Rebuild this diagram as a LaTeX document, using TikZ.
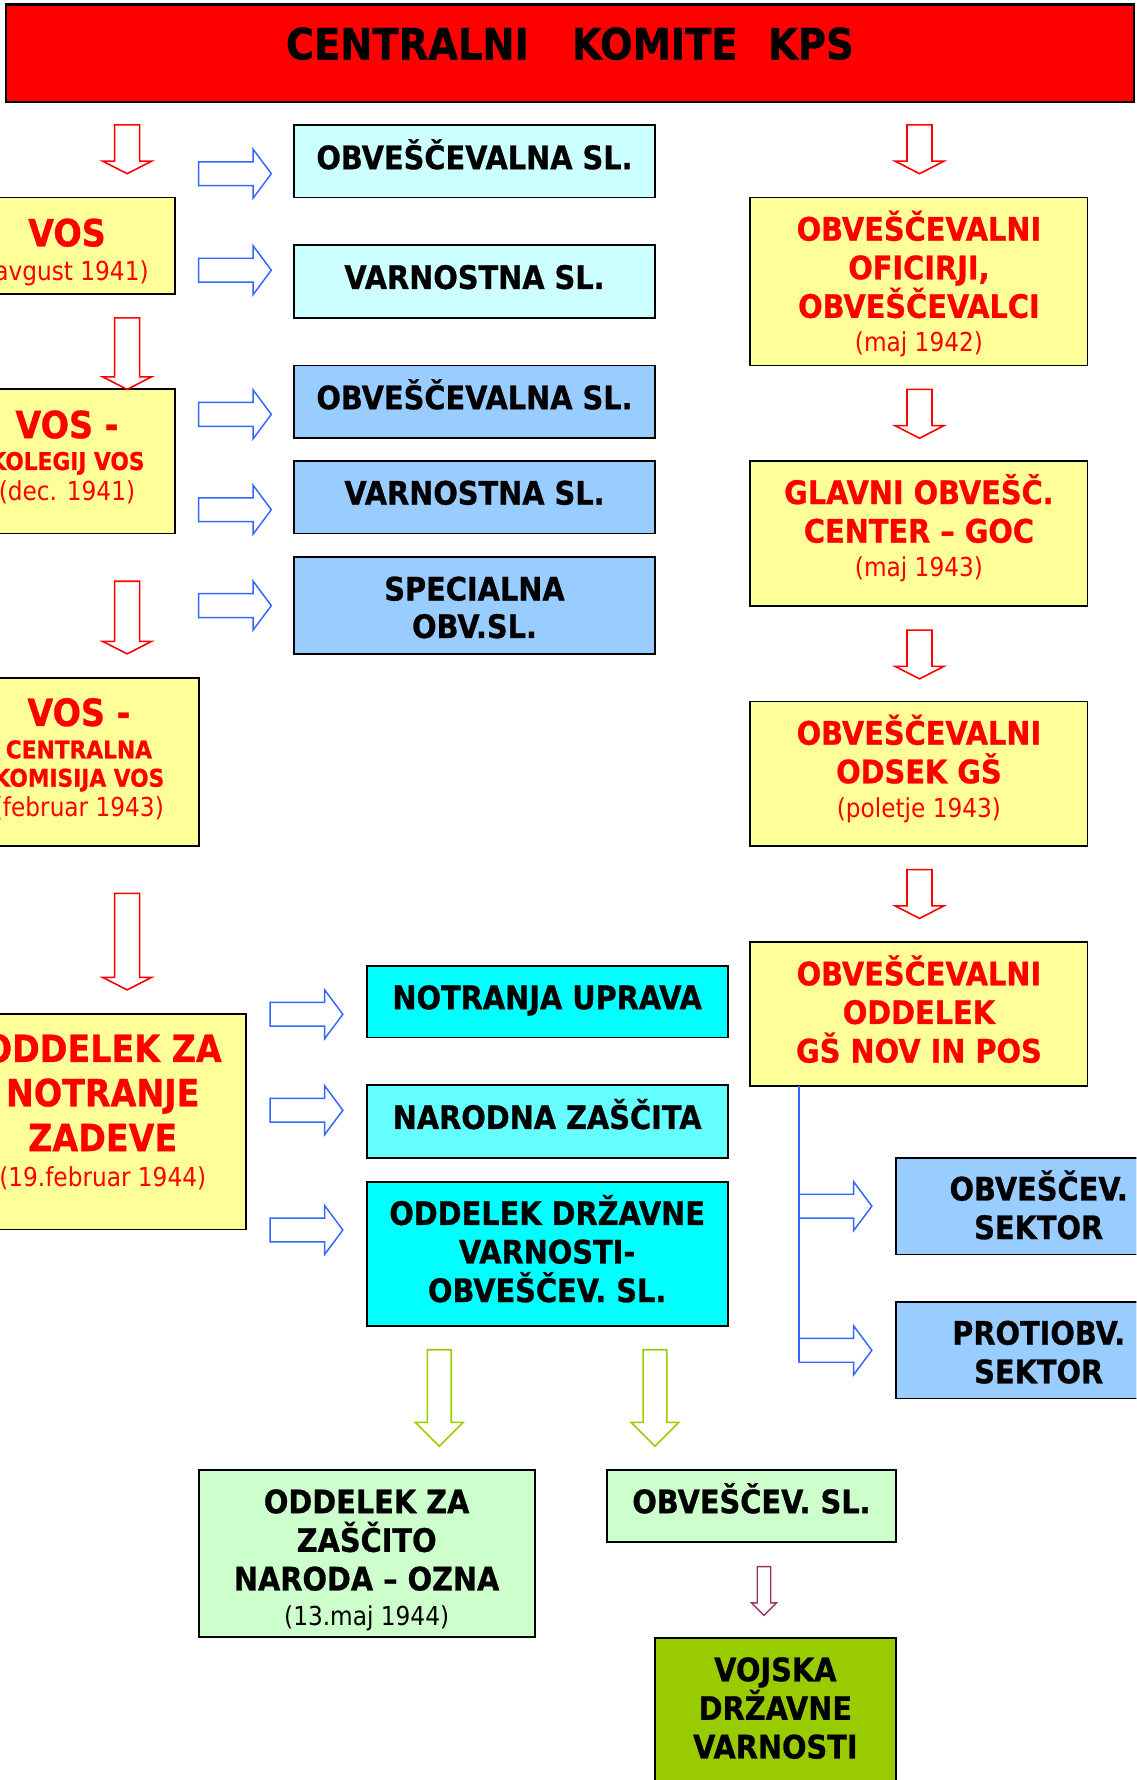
\documentclass[tikz,border=0pt]{standalone}
\usepackage{fontspec}
\setmainfont{DejaVu Sans}[FakeStretch=0.89, BoldFeatures={FakeBold=0.8}]
\usetikzlibrary{calc}
\definecolor{kred}{HTML}{FF0000}
\definecolor{kyellow}{HTML}{FFFF99}
\definecolor{lcyan}{HTML}{CCFFFF}
\definecolor{lblue}{HTML}{99CCFF}
\definecolor{kcyan}{HTML}{00FFFF}
\definecolor{mcyan}{HTML}{66FFFF}
\definecolor{lgreen}{HTML}{CCFFCC}
\definecolor{olive}{HTML}{99CC00}
\definecolor{arrblue}{HTML}{3366FF}
\definecolor{arrpurple}{HTML}{993366}
% block arrow pointing down: style, from, to, shaft half width, head half width, head length
\newcommand\downblock[6]{%
  \draw[#1] let \p1=#2, \p2=#3, \n1={\y2-\y1} in
    (\p1) ++(-#4,0) -- ++(0,{\n1+#6}) -- ++({-(#5-#4)},0) -- ++(#5,#6) -- ++(#5,-#6)
    -- ++({-(#5-#4)},0) -- ++(0,{-(\n1+#6)}) -- cycle;}
% block arrow pointing right
\newcommand\rightblock[6]{%
  \draw[#1] let \p1=#2, \p2=#3, \n1={\x2-\x1} in
    (\p1) ++(0,-#4) -- ++({\n1-#6},0) -- ++(0,{-(#5-#4)}) -- ++(#6,#5) -- ++(-#6,#5)
    -- ++(0,{-(#5-#4)}) -- ++({-(\n1-#6)},0) -- cycle;}
% one text line with a fixed strut: [depth]{height}{text}
\newcommand\Ln[3][0]{\rule[-#1pt]{0pt}{\dimexpr#2pt+#1pt\relax}\smash{#3}}
\newcommand\blk{\color{black}\fontsize{28.5}{30}\selectfont\bfseries}
\newcommand\rd{\color{kred}\fontsize{28.5}{30}\selectfont\bfseries}
\newcommand\dtr{\color{kred}\fontsize{23}{24}\selectfont\mdseries}
\newcommand\dtb{\color{black}\fontsize{23}{24}\selectfont\mdseries}
\newcommand\vosf{\color{kred}\fontsize{33}{34}\selectfont\bfseries}
\newcommand\sr{\color{kred}\fontsize{21.5}{22}\selectfont\bfseries}
\newcommand\br{\color{kred}\fontsize{33}{34}\selectfont\bfseries}
\tikzset{
  box/.style={draw=black, line width=1.6pt, anchor=north west, align=center,
    inner sep=0pt, outer sep=0pt,
    font={\fontsize{10}{0}\selectfont\setlength\lineskip{0pt}\setlength\lineskiplimit{0pt}}},
  redarrow/.style={draw=kred, line width=1.4pt, line join=miter},
  bluearrow/.style={draw=arrblue, line width=1.3pt, line join=miter},
  greenarrow/.style={draw=olive, line width=1.4pt, line join=miter},
  purplearrow/.style={draw=arrpurple, line width=1.2pt, line join=miter},
}
\begin{document}
\begin{tikzpicture}[x=1pt,y=-1pt]
\useasboundingbox (0,0) rectangle (1001,1568);
\clip (0,0) rectangle (1001,1568);
% title
\node[box, line width=2pt, fill=kred, minimum width=994, minimum height=86] (title) at (5,4)
  {\Ln[37.7]{48.3}{\fontsize{38}{40}\selectfont\bfseries CENTRALNI\hspace{38pt}KOMITE\hspace{27pt}KPS}};
% left column
\node[box, fill=kyellow, minimum width=190, minimum height=85] (vos) at (-36,174)
  {\Ln{43}{\vosf VOS}\\\Ln[12]{30}{\dtr (avgust 1941)}};
\node[box, fill=kyellow, minimum width=190, minimum height=127] (kol) at (-36,343)
  {\Ln{43}{\vosf VOS -}\\\Ln{28}{\sr KOLEGIJ VOS}\\\Ln[29]{27}{\dtr (dec. 1941)}};
\node[box, fill=kyellow, minimum width=211, minimum height=148] (cen) at (-36,597)
  {\Ln{42.5}{\vosf VOS -}\\\Ln{28.5}{\sr CENTRALNA}\\\Ln{25}{\sr KOMISIJA VOS}\\\Ln[26]{26}{\dtr (februar 1943)}};
\node[box, fill=kyellow, minimum width=253, minimum height=190] (not) at (-36,893)
  {\Ln{42.5}{\br ODDELEK ZA}\\\Ln{39}{\br NOTRANJE}\\\Ln{39.5}{\br ZADEVE}\\\Ln[37.5]{31.5}{\dtr (19.februar 1944)}};
% middle upper
\node[box, fill=lcyan, minimum width=318, minimum height=64] (m1) at (259,110) {\Ln[25]{39}{\blk OBVEŠČEVALNA SL.}};
\node[box, fill=lcyan, minimum width=318, minimum height=64] (m2) at (259,216) {\Ln[25.5]{38.5}{\blk VARNOSTNA SL.}};
\node[box, fill=lblue, minimum width=318, minimum height=64] (m3) at (259,322) {\Ln[25.5]{38.5}{\blk OBVEŠČEVALNA SL.}};
\node[box, fill=lblue, minimum width=318, minimum height=64] (m4) at (259,406) {\Ln[25.5]{38.5}{\blk VARNOSTNA SL.}};
\node[box, fill=lblue, minimum width=318, minimum height=85] (m5) at (259,491)
  {\Ln{38}{\blk SPECIALNA}\\\Ln[14]{33}{\blk OBV.SL.}};
% right column
\node[box, fill=kyellow, minimum width=297, minimum height=148] (r1) at (661,174)
  {\Ln{38}{\rd OBVEŠČEVALNI}\\\Ln{34}{\rd OFICIRJI,}\\\Ln{34}{\rd OBVEŠČEVALCI}\\\Ln[12.5]{29.5}{\dtr (maj 1942)}};
\node[box, fill=kyellow, minimum width=297, minimum height=128] (r2) at (661,406)
  {\Ln{38}{\rd GLAVNI OBVEŠČ.}\\\Ln{34}{\rd CENTER – GOC}\\\Ln[26]{30}{\dtr (maj 1943)}};
\node[box, fill=kyellow, minimum width=297, minimum height=127] (r3) at (661,618)
  {\Ln{38}{\rd OBVEŠČEVALNI}\\\Ln{34}{\rd ODSEK GŠ}\\\Ln[25]{30}{\dtr (poletje 1943)}};
\node[box, fill=kyellow, minimum width=297, minimum height=127] (r4) at (661,830)
  {\Ln{38}{\rd OBVEŠČEVALNI}\\\Ln{34}{\rd ODDELEK}\\\Ln[21]{34}{\rd GŠ NOV IN POS}};
% middle lower
\node[box, fill=kcyan, minimum width=318, minimum height=63] (n1) at (323,851) {\Ln[25]{38}{\blk NOTRANJA UPRAVA}};
\node[box, fill=mcyan, minimum width=318, minimum height=64] (n2) at (323,956) {\Ln[25.5]{38.5}{\blk NARODNA ZAŠČITA}};
\node[box, fill=kcyan, minimum width=318, minimum height=127] (n3) at (323,1041)
  {\Ln{38}{\blk ODDELEK DRŽAVNE}\\\Ln{34}{\blk VARNOSTI-}\\\Ln[21]{34}{\blk OBVEŠČEV. SL.}};
% right lower
\node[box, fill=lblue, minimum width=252, minimum height=85] (s1) at (789,1020)
  {\Ln{37.5}{\blk OBVEŠČEV.}\\\Ln[13.5]{34}{\blk SEKTOR}};
\node[box, fill=lblue, minimum width=252, minimum height=85] (s2) at (789,1147)
  {\Ln{37.5}{\blk PROTIOBV.}\\\Ln[13.5]{34}{\blk SEKTOR}};
% bottom
\node[box, fill=lgreen, minimum width=296, minimum height=147] (g1) at (175,1295)
  {\Ln{38}{\blk ODDELEK ZA}\\\Ln{34}{\blk ZAŠČITO}\\\Ln{34}{\blk NARODA – OZNA}\\\Ln[10.5]{30.5}{\dtb (13.maj 1944)}};
\node[box, fill=lgreen, minimum width=254, minimum height=63] (g2) at (535,1295) {\Ln[25]{38}{\blk OBVEŠČEV. SL.}};
\node[box, fill=olive, minimum width=212, minimum height=126] (v) at (577,1443)
  {\Ln{38}{\blk VOJSKA}\\\Ln{34}{\blk DRŽAVNE}\\\Ln[20]{34}{\blk VARNOSTI}};
% helper coordinates
\coordinate (cl) at (112,0);
\coordinate (cr) at (810,0);
\coordinate (lx) at (704,0);
\coordinate (lend) at (704,1200);
\coordinate (gx1) at (387,0);
\coordinate (gx2) at (577,0);
\coordinate (px) at (673,0);
% red arrows left
\downblock{redarrow}{($(title.south -| cl)+(0,20)$)}{($(vos.north -| cl)+(0,-21)$)}{11}{21.5}{11}
\downblock{redarrow}{($(vos.south -| cl)+(0,21)$)}{(kol.north -| cl)}{11}{21.5}{11}
\downblock{redarrow}{($(kol.south -| cl)+(0,42)$)}{($(cen.north -| cl)+(0,-21)$)}{11}{21.5}{11}
\downblock{redarrow}{($(cen.south -| cl)+(0,42)$)}{($(not.north -| cl)+(0,-21)$)}{11}{21.5}{11}
% red arrows right
\downblock{redarrow}{($(title.south -| cr)+(0,20)$)}{($(r1.north -| cr)+(0,-21)$)}{11}{21.5}{11}
\downblock{redarrow}{($(r1.south -| cr)+(0,21)$)}{($(r2.north -| cr)+(0,-20)$)}{11}{21.5}{11}
\downblock{redarrow}{($(r2.south -| cr)+(0,21)$)}{($(r3.north -| cr)+(0,-20)$)}{11}{21.5}{11}
\downblock{redarrow}{($(r3.south -| cr)+(0,21)$)}{($(r4.north -| cr)+(0,-21)$)}{11}{21.5}{11}
% blue arrows upper
\rightblock{bluearrow}{($(m1.west)+(-84,11)$)}{($(m1.west)+(-20,11)$)}{10.5}{21.5}{16}
\rightblock{bluearrow}{($(m2.west)+(-84,-10)$)}{($(m2.west)+(-20,-10)$)}{10.5}{21.5}{16}
\rightblock{bluearrow}{($(m3.west)+(-84,11)$)}{($(m3.west)+(-20,11)$)}{10.5}{21.5}{16}
\rightblock{bluearrow}{($(m4.west)+(-84,11)$)}{($(m4.west)+(-20,11)$)}{10.5}{21.5}{16}
\rightblock{bluearrow}{($(m5.west)+(-84,0)$)}{($(m5.west)+(-20,0)$)}{10.5}{21.5}{16}
% blue arrows lower
\rightblock{bluearrow}{($(n1.west)+(-85,11)$)}{($(n1.west)+(-21,11)$)}{10.5}{21.5}{16}
\rightblock{bluearrow}{($(n2.west)+(-85,-10)$)}{($(n2.west)+(-21,-10)$)}{10.5}{21.5}{16}
\rightblock{bluearrow}{($(n3.west)+(-85,-21)$)}{($(n3.west)+(-21,-21)$)}{10.5}{21.5}{16}
% tree on the right
\draw[draw=arrblue, line width=1.3pt] (r4.south -| lx) -- (lend);
\rightblock{bluearrow}{(s1.west -| lx)}{($(s1.west)+(-21,0)$)}{10.5}{21.5}{16}
\rightblock{bluearrow}{(s2.west -| lx)}{($(s2.west)+(-21,0)$)}{10.5}{21.5}{16}
% green arrows
\downblock{greenarrow}{($(n3.south -| gx1)+(0,21)$)}{($(g1.north -| gx1)+(0,-21)$)}{10.5}{21}{21}
\downblock{greenarrow}{($(n3.south -| gx2)+(0,21)$)}{($(g2.north -| gx2)+(0,-21)$)}{10.5}{21}{21}
% purple arrow
\downblock{purplearrow}{($(g2.south -| px)+(0,22)$)}{($(v.north -| px)+(0,-20)$)}{6}{11}{11}
\end{tikzpicture}
\end{document}
